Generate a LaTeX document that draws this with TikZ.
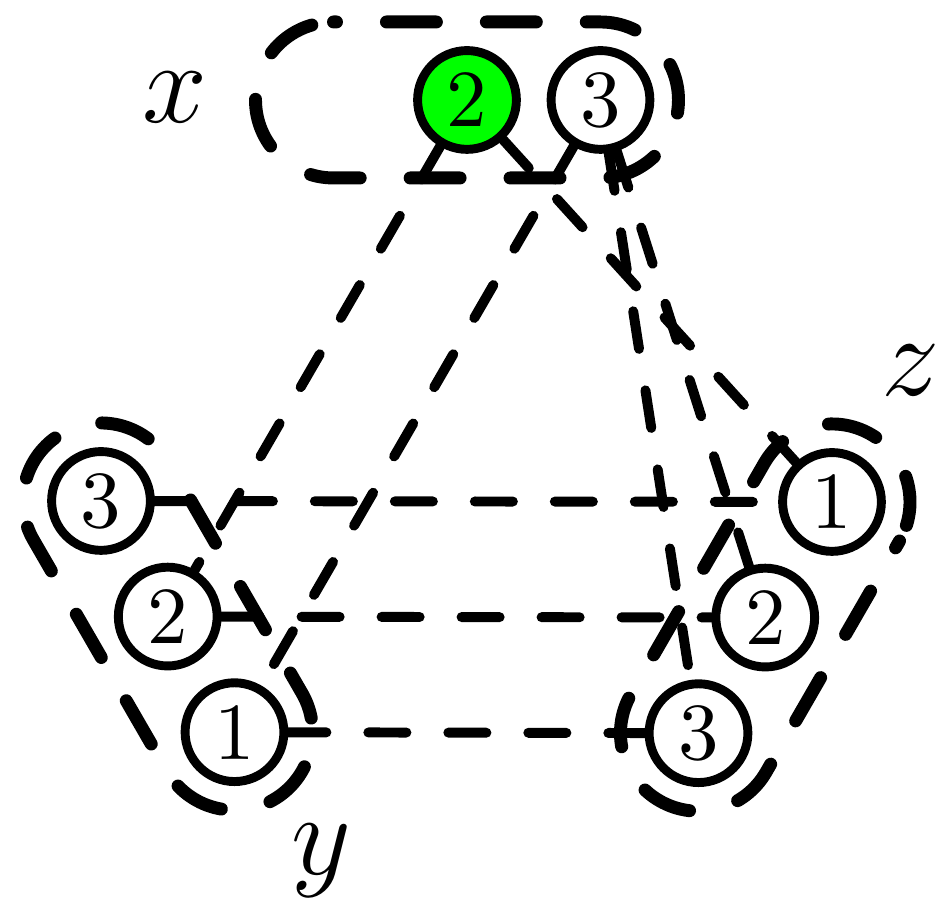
\documentclass[tikz,border=0pt]{standalone}
\usepackage{tikz}

\begin{document}
\begin{tikzpicture}[x=0.1235pt,y=0.1235pt,yscale=-1,
  val/.style={draw,circle,line width=1.1pt,minimum size=12.2pt,inner sep=0pt},
  link/.style={line width=1.23pt,line cap=round,dash pattern=on 4.7pt off 5.18pt},
  dom/.style={line width=1.6pt,line cap=round,dash pattern=on 6.17pt off 6.17pt},
  var/.style={font=\Large}]
\useasboundingbox (0,0) rectangle (936,905);

% Values of x (x=1 is gone)
\node [val,fill=green] (x2) at (467,100) {2};
\node [val] (x3) at (600.5,100) {3};
% Values of y
\node [val] (y3) at (101,501) {3};
\node [val] (y2) at (167.75,616.6) {2};
\node [val] (y1) at (234.5,732.2) {1};
% Values of z
\node [val] (z1) at (832,502) {1};
\node [val] (z2) at (765.25,617.6) {2};
\node [val] (z3) at (698.5,733.2) {3};

% Text Node
\node [var] (lx) at (175,97) {$x$};
% Text Node
\node [var] (ly) at (321,861) {$y$};
% Text Node
\node [var] (lz) at (911,370) {$z$};

%Straight Lines
\draw [link] (x2) -- (y2);
\draw [link] (x2) -- (z1);
\draw [link] (x3) -- (y1);
\draw [link] (x3) -- (z2);
\draw [link] (x3) -- (z3);
\draw [link] (y3) -- (z1);
\draw [link] (y2) -- (z2);
\draw [link] (y1) -- (z3);

%Shape: domain of x
\begin{scope}[shift={(333.5,100)}]
\draw [dom,dash phase=5.8pt] (0,-78) -- (267,-78) arc [start angle=-90,end angle=90,radius=78] -- (0,78) arc [start angle=90,end angle=270,radius=78] -- cycle;
\end{scope}
%Shape: domain of y
\begin{scope}[shift={(101,501)},rotate=60]
\draw [dom,dash phase=6.92pt] (0,-78) -- (267,-78) arc [start angle=-90,end angle=90,radius=78] -- (0,78) arc [start angle=90,end angle=270,radius=78] -- cycle;
\end{scope}
%Shape: domain of z
\begin{scope}[shift={(832,502)},rotate=120]
\draw [dom,dash phase=5.19pt] (0,-78) -- (267,-78) arc [start angle=-90,end angle=90,radius=78] -- (0,78) arc [start angle=90,end angle=270,radius=78] -- cycle;
\end{scope}
\end{tikzpicture}
\end{document}
